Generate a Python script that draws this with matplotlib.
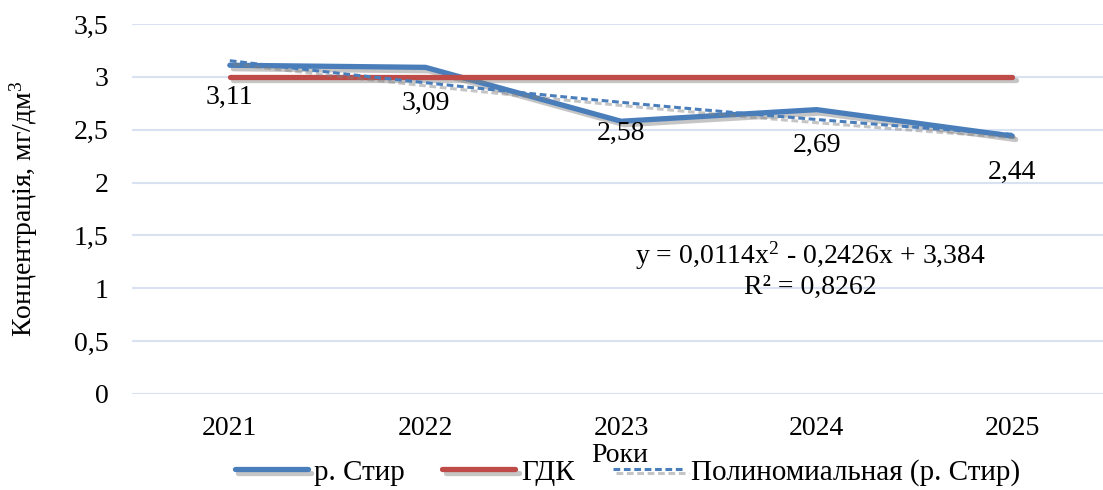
import numpy as np
import matplotlib
matplotlib.use("Agg")
import matplotlib.pyplot as plt
import matplotlib.patheffects as pe

# ============================================================
# DATA
# ============================================================

years = ["2021", "2022", "2023", "2024", "2025"]
styr = [3.11, 3.09, 2.58, 2.69, 2.44]
gdk = [3, 3, 3, 3, 3]
value_labels = ["3,11", "3,09", "2,58", "2,69", "2,44"]
y_ticks = [0, 0.5, 1, 1.5, 2, 2.5, 3, 3.5]
y_tick_labels = ["0", "0,5", "1", "1,5", "2", "2,5", "3", "3,5"]

# label offsets below the points (points)
label_dy = [-23, -26, -9, -26, -26]

BLUE = "#4A7EBB"
RED = "#BE4B48"
GRID = "#D9E2F3"

plt.rcParams['font.family'] = ['Liberation Serif', 'DejaVu Serif']
plt.rcParams['mathtext.fontset'] = 'custom'
plt.rcParams['mathtext.rm'] = 'Liberation Serif'
plt.rcParams['mathtext.it'] = 'Liberation Serif:italic'

FS = 20

fig = plt.figure(figsize=(11.03, 4.9), dpi=100)
ax = fig.add_axes([0.1197, 0.196, 0.8867, 0.755])

x = np.arange(len(years))

shadow = [pe.SimpleLineShadow(offset=(2.5, -2.5), shadow_color="#7F7F7F", alpha=0.45),
          pe.Normal()]

# ------------------------------------------------------------
# trendline (2nd order polynomial fit over x = 1..5)
# ------------------------------------------------------------

coef = np.polyfit(x + 1, styr, 2)
xs = np.linspace(1, len(years), 200)
ys = np.polyval(coef, xs)

ax.plot(x, styr, color=BLUE, linewidth=3.8, solid_capstyle="round",
        path_effects=shadow, label="р. Стир", zorder=3)
ax.plot(x, gdk, color=RED, linewidth=3.8, solid_capstyle="round",
        path_effects=shadow, label="ГДК", zorder=4)
ax.plot(xs - 1, ys, color=BLUE, linewidth=2.2, linestyle=(0, (2.2, 1.2)),
        path_effects=shadow, label="Полиномиальная (р. Стир)", zorder=5)

for xi, yi, lab, dy in zip(x, styr, value_labels, label_dy):
    ax.annotate(lab, (xi, yi), xytext=(0, dy), textcoords="offset points",
                ha="center", va="center", fontsize=FS)

ax.text(0.694, 0.335, "y = 0,0114x$^{\\mathrm{2}}$ - 0,2426x + 3,384\nR² = 0,8262",
        transform=ax.transAxes, ha="center", va="center",
        fontsize=FS, linespacing=1.15)

# ------------------------------------------------------------
# axes
# ------------------------------------------------------------

ax.set_xlim(-0.5, len(years) - 0.5)
ax.set_ylim(0, 3.5)
ax.set_xticks(x)
ax.set_xticklabels(years, fontsize=FS)
ax.set_yticks(y_ticks)
ax.set_yticklabels(y_tick_labels, fontsize=FS)
ax.tick_params(axis="y", length=0, pad=17)
ax.tick_params(axis="x", length=0, pad=16)

for s in ax.spines.values():
    s.set_visible(False)

ax.grid(axis="y", color=GRID, linewidth=1.5)
ax.set_axisbelow(True)

ax.set_ylabel("Концентрація, мг/дм$^{\\mathrm{3}}$", fontsize=FS, labelpad=24)
fig.text(0.562, 0.071, "Роки", ha="center", va="center", fontsize=FS)

fig.legend(loc="center", bbox_to_anchor=(0.569, 0.036), ncol=3, frameon=False,
           fontsize=21, handlelength=2.5, handletextpad=0.2, columnspacing=1.3)

fig.savefig("out.png", dpi=100)
